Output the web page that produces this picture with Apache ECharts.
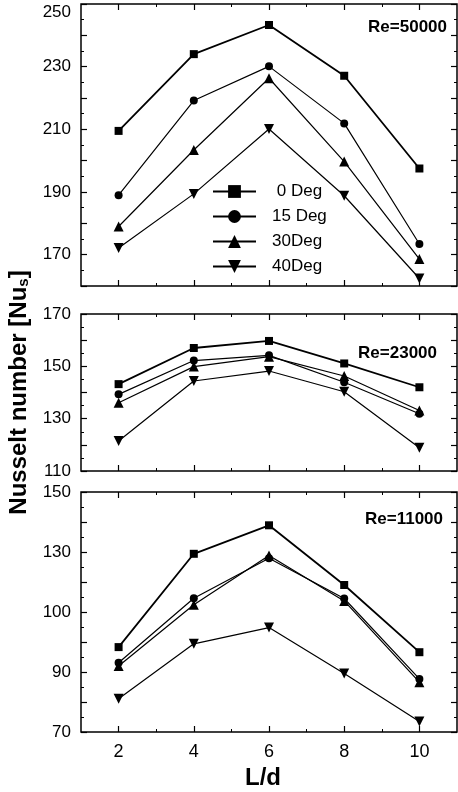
<!DOCTYPE html>
<html>
<head>
<meta charset="utf-8">
<script src="https://cdn.jsdelivr.net/npm/echarts@6/dist/echarts.min.js"></script>
<style>
html,body{margin:0;padding:0;background:#fff;}
#chart{width:458px;height:792px;}
</style>
</head>
<body>
<div id="chart"></div>
<script>
// ---- data ----
const xValues = [2, 4, 6, 8, 10];
const xMinorTicks = [3, 5, 7, 9];
const seriesNames = ['0 Deg', '15 Deg', '30Deg', '40Deg'];

// Re = 50000
const re50000_0  = [209.5, 234.0, 243.3, 227.1, 197.5];
const re50000_15 = [189.0, 219.2, 230.1, 211.9, 173.4];
const re50000_30 = [179.0, 203.4, 226.3, 199.7, 168.6];
const re50000_40 = [172.1, 189.4, 210.1, 188.8, 162.4];
// Re = 23000
const re23000_0  = [143.2, 157.0, 159.7, 151.1, 142.0];
const re23000_15 = [139.3, 152.2, 154.2, 143.9, 131.9];
const re23000_30 = [136.1, 149.9, 153.7, 146.3, 133.1];
const re23000_40 = [121.5, 144.4, 148.2, 140.3, 118.9];
// Re = 11000
const re11000_0  = [98.3, 129.4, 138.9, 119.0, 96.6];
const re11000_15 = [93.1, 114.6, 127.9, 114.5, 87.7];
const re11000_30 = [92.0, 112.4, 128.8, 113.7, 86.6];
const re11000_40 = [81.1, 99.4, 104.8, 89.5, 73.5];

// tick labels (value -> printed text)
const topTickValues = [170, 190, 210, 230, 250];
const topTickLabels = ['170', '190', '210', '230', '250'];
const midTickValues = [110, 130, 150, 170];
const midTickLabels = ['110', '130', '150', '170'];
const botTickValues = [70, 90, 110, 130, 150];
const botTickLabels = ['70', '90', '100', '130', '150'];
const panelTitles = ['Re=50000', 'Re=23000', 'Re=11000'];

// ---- layout / styles ----
const FONT = '"Liberation Sans", Arial, sans-serif';
const panels = [
  { top: 4,   height: 282, min: 160, max: 250, tv: topTickValues, tl: topTickLabels,
    data: [re50000_0, re50000_15, re50000_30, re50000_40], title: panelTitles[0], tx: 447, ty: 27 },
  { top: 314, height: 157, min: 110, max: 170, tv: midTickValues, tl: midTickLabels,
    data: [re23000_0, re23000_15, re23000_30, re23000_40], title: panelTitles[1], tx: 437, ty: 353 },
  { top: 492, height: 240, min: 70,  max: 150, tv: botTickValues, tl: botTickLabels,
    data: [re11000_0, re11000_15, re11000_30, re11000_40], title: panelTitles[2], tx: 443, ty: 519 }
];
const symbols = ['rect', 'circle', 'triangle', 'path://M0,0L10,0L5,9Z'];
const symbolSizes = [8, 8, 10, 10];
const lineWidths = [1.8, 1.2, 1.2, 1.2];

const grids = [], xAxes = [], yAxes = [], series = [], graphics = [];
panels.forEach((p, i) => {
  grids.push({ left: 81, top: p.top, width: 376, height: p.height, show: true,
    borderColor: '#000', borderWidth: 1.5, backgroundColor: 'transparent',
    containLabel: false, outerBoundsMode: 'none' });
  const isBottom = i === panels.length - 1;
  const baseX = { type: 'value', gridIndex: i, min: 1, max: 11, interval: 1,
    axisLine: { show: false }, splitLine: { show: false } };
  ['bottom', 'top'].forEach(pos => {
    xAxes.push(Object.assign({}, baseX, {
      position: pos,
      axisTick: { show: true, inside: true, length: 6, customValues: xValues, lineStyle: { color: '#000', width: 1.2 } },
      axisLabel: (pos === 'bottom' && isBottom) ? { show: true, customValues: xValues, formatter: v => String(v),
        margin: 11, fontSize: 18, color: '#000', fontFamily: FONT } : { show: false },
      name: (pos === 'bottom' && isBottom) ? 'L/d' : '',
      nameLocation: 'middle', nameGap: 34,
      nameTextStyle: { fontSize: 24, fontWeight: 'bold', color: '#000', fontFamily: FONT, padding: [0, 12, 0, 0] }
    }));
    xAxes.push(Object.assign({}, baseX, {
      position: pos,
      axisTick: { show: true, inside: true, length: 3, customValues: xMinorTicks, lineStyle: { color: '#000', width: 1 } },
      axisLabel: { show: false }
    }));
  });
  const baseY = { type: 'value', gridIndex: i, min: p.min, max: p.max, interval: 10,
    axisLine: { show: false }, splitLine: { show: false },
    axisTick: { show: true, inside: true, length: 6, lineStyle: { color: '#000', width: 1.2 } },
    minorTick: { show: true, splitNumber: 2, length: 3, lineStyle: { color: '#000', width: 1 } } };
  yAxes.push(Object.assign({}, baseY, {
    position: 'left',
    axisLabel: { show: true, margin: 10, fontSize: 17, color: '#000', fontFamily: FONT,
      formatter: v => {
        const k = p.tv.indexOf(v);
        if (k < 0) return '';
        return (i === 0 && v === p.max) ? '\n' + p.tl[k] : p.tl[k];
      } },
    name: i === 1 ? '{a|Nusselt number [Nu}{s|s}{a|]}' : '',
    nameLocation: 'middle', nameGap: 37,
    nameTextStyle: { color: '#000', fontFamily: FONT, fontSize: 24, fontWeight: 'bold',
      rich: { a: { fontSize: 24, fontWeight: 'bold', fontFamily: FONT, color: '#000' },
              s: { fontSize: 15, fontWeight: 'bold', fontFamily: FONT, color: '#000', verticalAlign: 'bottom' } } }
  }));
  yAxes.push(Object.assign({}, baseY, { position: 'right', axisLabel: { show: false } }));

  p.data.forEach((arr, k) => {
    series.push({
      type: 'line', name: seriesNames[k], xAxisIndex: i * 4, yAxisIndex: i * 2,
      data: xValues.map((x, j) => [x, arr[j]]),
      symbol: symbols[k], symbolSize: symbolSizes[k], showSymbol: true,
      lineStyle: { color: '#000', width: lineWidths[k] },
      itemStyle: { color: '#000' }, animation: false
    });
  });
  graphics.push({ type: 'text', x: p.tx, y: p.ty,
    style: { text: p.title, fill: '#000', font: 'bold 17px ' + FONT, align: 'right', verticalAlign: 'middle' } });
});

const chart = echarts.init(document.getElementById('chart'), null, { renderer: 'canvas' });
chart.setOption({
  animation: false,
  backgroundColor: '#fff',
  grid: grids, xAxis: xAxes, yAxis: yAxes, series: series, graphic: graphics,
  legend: {
    data: seriesNames, orient: 'vertical', left: 212, top: 183, padding: 0,
    itemWidth: 43, itemHeight: 16, itemGap: 8, selectedMode: false,
    formatter: n => n === '0 Deg' ? ' ' + n : n,
    textStyle: { fontSize: 17, color: '#000', fontFamily: FONT, padding: [0, 0, 0, 11] }
  }
});
</script>
</body>
</html>
